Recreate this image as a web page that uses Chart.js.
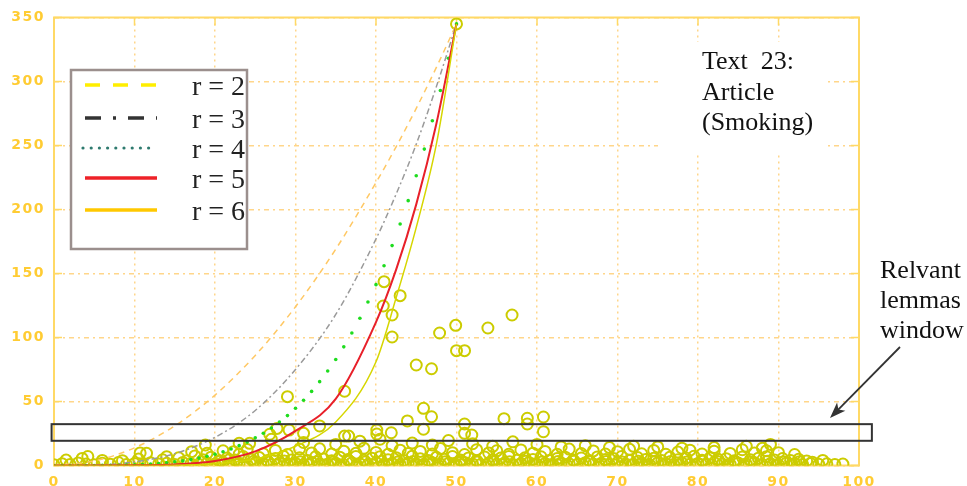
<!DOCTYPE html>
<html>
<head>
<meta charset="utf-8">
<script src="https://cdn.jsdelivr.net/npm/chart.js@4.4.1/dist/chart.umd.min.js"></script>
<style>
  html, body { margin: 0; padding: 0; background: #fff; }
  #wrap { width: 967px; height: 486px; }
</style>
</head>
<body>
<div id="wrap"><canvas id="c" width="967" height="486"></canvas></div>
<script>
// curve samples (x -> y)
const curveX = [0, 5, 10, 15, 20, 25, 30, 35, 40, 42.5, 45, 47.5, 50];
const r2 = [0, 3.5, 13.8, 31, 55, 86, 124, 169, 221, 249, 279, 311, 345];
const r3 = [0, 0.3, 2.8, 9.3, 22, 43, 75, 118, 177, 212, 251, 296, 345];
const r5 = [0, 0, 0.1, 0.8, 3.5, 11, 27, 52, 112, 153, 204, 267, 345];
const r6 = [0, 0, 0, 0.2, 1.4, 5, 15, 34, 81, 131, 186, 251, 345];

// r = 4 is drawn as dots, one per x
const r4X = [0,1,2,3,4,5,6,7,8,9,10,11,12,13,14,15,16,17,18,19,20,21,22,23,24,25,
             26,27,28,29,30,31,32,33,34,35,36,37,38,39,40,41,42,43,44,45,46,47,48,49,50];
const r4Y = [0,0,0,0,0,0,0.1,0.1,0.2,0.4,0.6,0.8,1.1,1.6,2.1,2.8,3.6,4.6,5.8,7.2,8.8,10.7,
             12.9,15.5,18.3,21.6,25.2,29.3,33.9,39,44.7,51,57.9,65.5,73.8,82.8,92.7,103.5,
             115,127.7,141.3,156,171.8,188.7,206.9,226.4,247.2,269.3,293,318.2,345];

const legendLabels = ['r = 2', 'r = 3', 'r = 4', 'r = 5', 'r = 6'];

// lemma points: [x, y]
const lemmasLow = [
  [0,0.5],[1,1.4],[2,0.7],[3,2.0],[4,1.1],[5,0.6],[6,1.8],[7,1.0],[8,2.3],[9,0.8],[10,1.5],
  [11,0.6],[12,2.1],[13,1.2],[14,1.7],[15,0.8],[16,2.4],[17,1.3],[18,0.7],[19,1.9],[20,1.1],
  [21,2.5],[22,0.9],[23,1.6],[24,0.6],[25,2.2],[26,1.3],[27,0.8],[28,2.0],[29,1.1],[30,1.7],
  [31,0.7],[32,2.4],[33,1.2],[34,0.9],[35,1.8],[36,0.6],[37,2.1],[38,1.4],[39,0.8],[40,2.3],
  [41,1.0],[42,1.6],[43,0.7],[44,2.0],[45,1.3],[46,0.9],[47,2.2],[48,1.1],[49,1.7],[50,0.6],
  [51,2.4],[52,1.2],[53,0.8],[54,1.9],[55,1.0],[56,2.1],[57,0.7],[58,1.5],[59,2.3],[60,0.9],
  [61,1.6],[62,0.6],[63,2.0],[64,1.3],[65,0.8],[66,2.2],[67,1.1],[68,1.7],[69,0.7],[70,2.4],
  [71,1.2],[72,0.9],[73,1.8],[74,0.6],[75,2.1],[76,1.4],[77,0.8],[78,2.0],[79,1.0],[80,1.6],
  [81,0.7],[82,2.3],[83,1.2],[84,0.9],[85,1.9],[86,1.1],[87,2.2],[88,0.8],[89,1.5],[90,0.6],
  [91,2.0],[92,1.2],[93,0.8],[94,1.6],[95,0.9],[96,1.3],[97,0.7],[98,1.1]
];
const lemmasBase = [
  [18.3,3.0],[19.7,0.4],[20.6,3.4],[21.8,0.5],[22.7,2.9],[23.6,0.3],[24.8,3.3],[25.7,0.5],
  [26.6,2.8],[27.7,0.4],[28.6,3.5],[29.7,0.3],[30.6,2.9],[31.7,0.5],[32.7,3.2],[33.6,0.4],
  [34.7,2.8],[35.6,0.3],[36.7,3.4],[37.6,0.5],[38.7,2.9],[39.6,0.4],[40.7,3.3],[41.6,0.3],
  [42.7,2.8],[43.7,0.5],[44.6,3.1],[45.7,0.4],[46.6,3.4],[47.7,0.3],[48.6,2.9],[49.7,0.5],
  [50.6,3.2],[51.7,0.4],[52.6,2.8],[53.7,0.3],[54.6,3.4],[55.7,0.5],[56.6,2.9],[57.7,0.4],
  [58.6,3.3],[59.7,0.3],[60.6,2.8],[61.7,0.5],[62.6,3.1],[63.7,0.4],[64.6,3.4],[65.7,0.3],
  [66.6,2.9],[67.7,0.5],[68.6,3.2],[69.7,0.4],[70.6,2.8],[71.7,0.3],[72.6,3.3],[73.7,0.5],
  [74.6,2.9],[75.7,0.4],[76.6,3.2],[77.7,0.3],[78.6,2.8],[79.7,0.5],[80.6,3.4],[81.7,0.4],
  [82.6,2.9],[83.7,0.3],[84.6,3.1],[85.7,0.5],[86.6,2.8],[87.7,0.4],[88.6,3.3],[89.7,0.3],
  [90.6,2.9],[91.7,0.5],[92.6,3.0],[94.2,2.6]
];
const lemmasMid = [
  [1.5,4.2],[3.5,5.5],[4.2,7.0],[6,4.0],[8.5,3.8],[10.5,5.0],[11.5,9.5],[13.5,4.5],[15.5,6.0],
  [16.5,3.8],[17.5,7.5],[18.5,4.5],[19.5,6.5],[20.5,3.8],[21.5,5.8],[22.5,4.2],[23.5,7.0],
  [24.5,4.8],[25.5,6.2],[26.5,3.9],[27.5,5.5],[28.5,7.2],[29.5,4.3],[30.5,6.0],[31.5,4.0],
  [32.5,6.8],[33.5,5.0],[34.5,3.8],[35.5,6.5],[36.5,4.6],[37.5,7.0],[38.5,4.1],[39.5,5.7],
  [40.5,6.9],[41.5,4.4],[42.5,6.1],[43.5,3.9],[44.5,7.3],[45.5,5.2],[46.5,4.0],[47.5,6.4],
  [48.5,4.8],[49.5,7.0],[50.5,4.2],[51.5,5.9],[52.5,3.8],[53.5,6.6],[54.5,4.5],[55.5,5.8],
  [56.5,7.1],[57.5,4.1],[58.5,6.0],[59.5,4.7],[60.5,6.8],[61.5,3.9],[62.5,5.4],[63.5,6.5],
  [64.5,4.3],[65.5,5.9],[66.5,3.8],[67.5,6.7],[68.5,4.6],[69.5,5.5],[70.5,7.0],[71.5,4.0],
  [72.5,6.2],[73.5,4.7],[74.5,5.6],[75.5,3.9],[76.5,6.4],[77.5,4.4],[78.5,5.8],[79.5,7.2],
  [80.5,4.1],[81.5,6.0],[82.5,4.8],[83.5,5.3],[84.5,3.8],[85.5,6.6],[86.5,4.5],[87.5,5.7],
  [88.5,6.9],[89.5,4.2],[90.5,5.4],[91.5,3.9],[92.5,4.8],[93.5,3.6],[95.5,4.0]
];
const lemmasUpper = [
  [19,9.5],[21,11.5],[23,8.8],[24,12.5],[26,9.2],[27.5,11.8],[29,8.6],[30.5,12.8],[32,9.8],
  [33,13.0],[34.5,8.9],[36,11.2],[37.5,9.5],[38.5,13.5],[40,10.2],[41.5,8.7],[43,12.0],
  [44,9.4],[45.5,11.0],[47,8.9],[48,13.2],[49.5,10.0],[51,8.6],[52.5,12.4],[54,9.8],[55,11.5],
  [56.5,8.8],[58,12.2],[59.5,9.6],[61,11.0],[62.5,8.7],[64,12.8],[65.5,9.3],[67,11.4],
  [68.5,8.9],[70,10.8],[71.5,12.6],[73,9.2],[74.5,11.8],[76,8.8],[77.5,10.5],[79,12.0],
  [80.5,9.0],[82,11.2],[84,9.4],[85.5,12.3],[87,9.8],[88.5,11.5],[90,10.0],[92,8.6],
  [23,17.3],[24.3,17.3],[18.8,16],[17.1,10.8],[22.3,10.8],[14,6.9],[10.7,9.8],[27,20.5],
  [31,18],[35,16.5],[38,19],[40.5,20.5],[42,15.5],[44.5,17.5],[47,16],[49,19.5],[52,17],
  [54.5,15],[57,18.5],[60,16.5],[63,14.5],[66,15.5],[69,14],[72,15],[75,14.5],[78,13.5],
  [82,14],[86,15],[89,16.5],[88,13.5]
];
const lemmasHigh = [
  [50,345],[41,143.6],[43,132.7],[40.9,124.6],[42,117.6],[56.9,117.6],[49.9,109.5],[53.9,107.4],
  [47.9,103.5],[42,100.4],[50,89.7],[51,89.7],[45,78.5],[46.9,75.6],[36.1,58],[29,53.8],
  [45.9,44.7],[46.9,38.1],[43.9,34.8],[55.9,36.6],[58.8,36.9],[60.8,37.9],[58.8,32.4],
  [51,32.4],[33,30.9],[40.1,27.7],[40.1,24.6],[41.9,25.6],[45.9,28.3],[26.8,24.4],[31,25.1],
  [29.2,27.7],[36.1,23],[36.6,23],[51,25.1],[51.9,23.8],[60.8,26.4],[27.7,29]
];

const xTicks = [0, 10, 20, 30, 40, 50, 60, 70, 80, 90, 100];
const yTicks = [0, 50, 100, 150, 200, 250, 300, 350];

const pts = (xs, ys) => xs.map((x, i) => ({ x: x, y: ys[i] }));
const pairs = arr => arr.map(p => ({ x: p[0], y: p[1] }));

const axisColor = '#ffd966';
const gridColor = '#ffd68a';
const tickFont = { family: '"DejaVu Sans"', size: 14, weight: 'bold' };

const overlay = {
  id: 'overlay',
  beforeDraw(c) { c.ctx.letterSpacing = '1.5px'; },
  beforeDatasetsDraw(c) {
    const ctx = c.ctx, a = c.chartArea, sx = c.scales.x, sy = c.scales.y;
    ctx.save();
    ctx.letterSpacing = '0px';
    ctx.strokeStyle = axisColor;
    ctx.lineWidth = 1.5;
    // inward ticks, matlab style
    xTicks.forEach(v => {
      const px = sx.getPixelForValue(v);
      ctx.beginPath();
      ctx.moveTo(px, a.bottom); ctx.lineTo(px, a.bottom - 8);
      ctx.moveTo(px, a.top); ctx.lineTo(px, a.top + 8);
      ctx.stroke();
    });
    yTicks.forEach(v => {
      const py = sy.getPixelForValue(v);
      ctx.beginPath();
      ctx.moveTo(a.left, py); ctx.lineTo(a.left + 8, py);
      ctx.moveTo(a.right, py); ctx.lineTo(a.right - 8, py);
      ctx.stroke();
    });
    ctx.lineWidth = 2;
    ctx.strokeRect(a.left, a.top, a.right - a.left, a.bottom - a.top);
    ctx.restore();
  },
  afterDatasetsDraw(c) {
    const ctx = c.ctx, sx = c.scales.x, sy = c.scales.y;
    ctx.save();
    ctx.letterSpacing = '0px';

    // legend box
    ctx.fillStyle = '#fff';
    ctx.fillRect(71, 70, 176, 179);
    ctx.strokeStyle = '#9b8f8d';
    ctx.lineWidth = 2.5;
    ctx.strokeRect(71, 70, 176, 179);
    const rows = [85, 118, 148, 178, 210];
    const l0 = 85, l1 = 157;
    const styles = [
      { color: '#ffee00', dash: [15, 13], w: 3.5 },
      { color: '#333333', dash: [16, 12, 3, 12], w: 3.5 },
      { color: '#2e7a6e', dots: true },
      { color: '#ee2228', dash: [], w: 3.5 },
      { color: '#ffc800', dash: [], w: 3.5 }
    ];
    styles.forEach((s, i) => {
      const y = rows[i];
      if (s.dots) {
        ctx.fillStyle = s.color;
        for (let k = 0; k < 9; k++) {
          ctx.beginPath();
          ctx.arc(l0 - 2 + k * 8.2, y, 1.6, 0, Math.PI * 2);
          ctx.fill();
        }
      } else {
        ctx.strokeStyle = s.color;
        ctx.lineWidth = s.w;
        ctx.setLineDash(s.dash);
        ctx.beginPath();
        ctx.moveTo(l0, y); ctx.lineTo(l1, y);
        ctx.stroke();
        ctx.setLineDash([]);
      }
      ctx.fillStyle = '#222';
      ctx.font = '28px "Liberation Serif", "Times New Roman", serif';
      ctx.textBaseline = 'alphabetic';
      ctx.fillText(legendLabels[i], 192, y + 10);
    });

    // title box
    ctx.fillStyle = '#fff';
    ctx.fillRect(658, 42, 167, 110);
    ctx.fillStyle = '#111';
    ctx.font = '26px "Liberation Serif", "Times New Roman", serif';
    ctx.fillText('Text  23:', 702, 69);
    ctx.fillText('Article', 702, 100);
    ctx.fillText('(Smoking)', 702, 130);

    // relevant lemmas window
    const wx0 = sx.getPixelForValue(-0.3), wx1 = sx.getPixelForValue(101.6);
    const wy0 = sy.getPixelForValue(32.3), wy1 = sy.getPixelForValue(19.3);
    ctx.strokeStyle = '#333';
    ctx.lineWidth = 2;
    ctx.strokeRect(wx0, wy0, wx1 - wx0, wy1 - wy0);

    ctx.fillStyle = '#111';
    ctx.fillText('Relvant', 880, 278);
    ctx.fillText('lemmas', 880, 308);
    ctx.fillText('window', 880, 338);

    // arrow
    const ax0 = 900, ay0 = 347, ax1 = 830, ay1 = 418;
    const ang = Math.atan2(ay1 - ay0, ax1 - ax0);
    ctx.strokeStyle = '#333';
    ctx.lineWidth = 1.8;
    ctx.beginPath();
    ctx.moveTo(ax0, ay0);
    ctx.lineTo(ax1 - 10 * Math.cos(ang), ay1 - 10 * Math.sin(ang));
    ctx.stroke();
    ctx.fillStyle = '#333';
    ctx.beginPath();
    ctx.moveTo(ax1, ay1);
    ctx.lineTo(ax1 - 17 * Math.cos(ang - 0.35), ay1 - 17 * Math.sin(ang - 0.35));
    ctx.lineTo(ax1 - 12 * Math.cos(ang), ay1 - 12 * Math.sin(ang));
    ctx.lineTo(ax1 - 17 * Math.cos(ang + 0.35), ay1 - 17 * Math.sin(ang + 0.35));
    ctx.closePath();
    ctx.fill();
    ctx.restore();
  }
};

const lemmaStyle = {
  type: 'scatter',
  showLine: false,
  pointStyle: 'circle',
  pointRadius: 5.5,
  pointBorderWidth: 2,
  pointBorderColor: '#cccc00',
  pointBackgroundColor: 'rgba(0,0,0,0)',
  order: 10
};

new Chart(document.getElementById('c'), {
  type: 'scatter',
  data: {
    datasets: [
      { ...lemmaStyle, label: 'lemmas low', data: pairs(lemmasLow) },
      { ...lemmaStyle, label: 'lemmas base', data: pairs(lemmasBase) },
      { ...lemmaStyle, label: 'lemmas mid', data: pairs(lemmasMid) },
      { ...lemmaStyle, label: 'lemmas upper', data: pairs(lemmasUpper) },
      { ...lemmaStyle, label: 'lemmas high', data: pairs(lemmasHigh) },
      { label: 'r = 2', data: pts(curveX, r2), showLine: true, borderColor: '#ffc864', borderWidth: 1.5,
        borderDash: [6, 5], pointRadius: 0, cubicInterpolationMode: 'monotone', order: 5 },
      { label: 'r = 3', data: pts(curveX, r3), showLine: true, borderColor: '#9a9a9a', borderWidth: 1.5,
        borderDash: [6, 3, 2, 3], pointRadius: 0, cubicInterpolationMode: 'monotone', order: 4 },
      { label: 'r = 4', data: pts(r4X, r4Y), showLine: false, pointRadius: 1.8, pointBorderWidth: 0,
        pointBackgroundColor: '#1edc1e', pointBorderColor: '#1edc1e', order: 3 },
      { label: 'r = 5', data: pts(curveX, r5), showLine: true, borderColor: '#e8202a', borderWidth: 2,
        pointRadius: 0, cubicInterpolationMode: 'monotone', order: 2 },
      { label: 'r = 6', data: pts(curveX, r6), showLine: true, borderColor: '#d6d600', borderWidth: 1.5,
        pointRadius: 0, cubicInterpolationMode: 'monotone', order: 1 }
    ]
  },
  options: {
    responsive: false,
    animation: false,
    devicePixelRatio: 1,
    layout: { padding: { top: 17.5, right: 108, left: 0, bottom: 0 } },
    plugins: { legend: { display: false }, tooltip: { enabled: false } },
    scales: {
      x: {
        type: 'linear', min: 0, max: 100,
        afterBuildTicks: s => { s.ticks = xTicks.map(v => ({ value: v })); },
        afterFit: s => { s.height = 20.5; },
        grid: { color: gridColor, lineWidth: 1.5, drawTicks: false },
        border: { display: false, dash: [2, 4] },
        ticks: { padding: 8, color: '#ffcc33', font: tickFont }
      },
      y: {
        type: 'linear', min: 0, max: 350,
        afterBuildTicks: s => { s.ticks = yTicks.map(v => ({ value: v })); },
        afterFit: s => { s.width = 54; },
        grid: { color: gridColor, lineWidth: 1.5, drawTicks: false },
        border: { display: false, dash: [5, 4, 2, 4] },
        ticks: { padding: 9, color: '#ffcc33', font: tickFont }
      }
    }
  },
  plugins: [overlay]
});
</script>
</body>
</html>
